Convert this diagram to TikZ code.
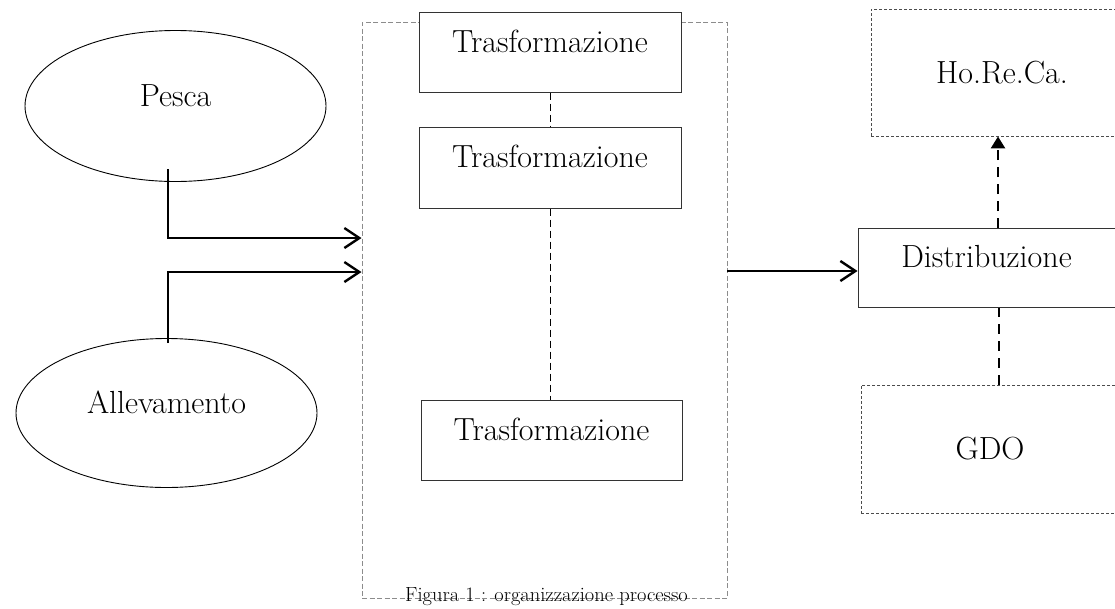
\documentclass[tikz,border=0pt]{standalone}
\usepackage{fontspec}
\usetikzlibrary{shapes.geometric,arrows.meta}
\tikzset{
  txt/.style={font=\fontsize{32}{38}\selectfont, text=black},
  solidbox/.style={txt, draw=black!80, line width=1pt, rectangle, inner sep=0pt, text height=1ex, text depth=1ex},
  dotbox/.style={txt, draw=black!70, line width=0.9pt, dash pattern=on 3pt off 2pt, rectangle, inner sep=0pt},
  oval/.style={txt, draw=black, line width=0.9pt, ellipse, inner sep=0pt, text height=1ex, text depth=1ex},
  procbox/.style={draw=black!45, line width=1pt, dash pattern=on 5pt off 2.5pt, rectangle, inner sep=0pt},
  arr/.style={line width=2.4pt, -{Straight Barb[length=15pt,width=20pt]}},
  thindash/.style={line width=1pt, dash pattern=on 7pt off 4pt},
  thickdash/.style={line width=2.6pt, dash pattern=on 10pt off 7pt},
}
\begin{document}
\begin{tikzpicture}[x=1pt,y=-1pt]
\useasboundingbox (0,0) rectangle (1115,608);
\clip (0,0) rectangle (1115,608);
% process container
\node[procbox, minimum width=365pt, minimum height=576pt] (proc) at (544.5,310) {};
% sources
\node[oval, minimum width=301pt, minimum height=151pt] (pesca) at (175.5,106) {Pesca};
\node[oval, minimum width=301pt, minimum height=149pt] (alle) at (166.5,413) {Allevamento};
% transformation boxes
\node[solidbox, minimum width=262pt, minimum height=80pt, fill=white] (t1) at (550,52) {Trasformazione};
\node[solidbox, minimum width=262pt, minimum height=81pt] (t2) at (550,167.5) {Trasformazione};
\node[solidbox, minimum width=261pt, minimum height=80pt] (t3) at (551.5,440) {Trasformazione};
% right side
\node[solidbox, minimum width=257pt, minimum height=79pt] (dist) at (986.5,267.5) {Distribuzione};
\node[dotbox, minimum width=262pt, minimum height=127pt] (horeca) at (1002,72.5) {Ho.Re.Ca.};
\node[dotbox, minimum width=258pt, minimum height=128pt] (gdo) at (990,449) {GDO};
% caption
\node[font=\fontsize{20.5}{24}\selectfont, anchor=base, inner sep=0pt] (cap) at (546.5,601) {Figura 1 : organizzazione processo};
% connectors
\coordinate (p1) at (168,169);
\coordinate (p2) at (168,238);
\draw[arr] (p1) -- (p2) -- (p2 -| proc.west);
\coordinate (a1) at (168,343);
\coordinate (a2) at (168,272);
\draw[arr] (a1) -- (a2) -- (a2 -| proc.west);
\coordinate (o1) at (727,271);
\draw[arr] (o1) -- (o1 -| dist.west);
\draw[thindash] (t1.south) -- (t2.north);
\draw[thindash] (t2.south) -- (t2.south |- t3.north);
\coordinate (d1) at (998,228);
\draw[thickdash, -{Triangle[length=12pt,width=14pt]}] (d1) -- (d1 |- horeca.south);
\coordinate (g1) at (999,385);
\draw[thickdash] (g1 |- gdo.north) -- (g1 |- dist.south);
\end{tikzpicture}
\end{document}
